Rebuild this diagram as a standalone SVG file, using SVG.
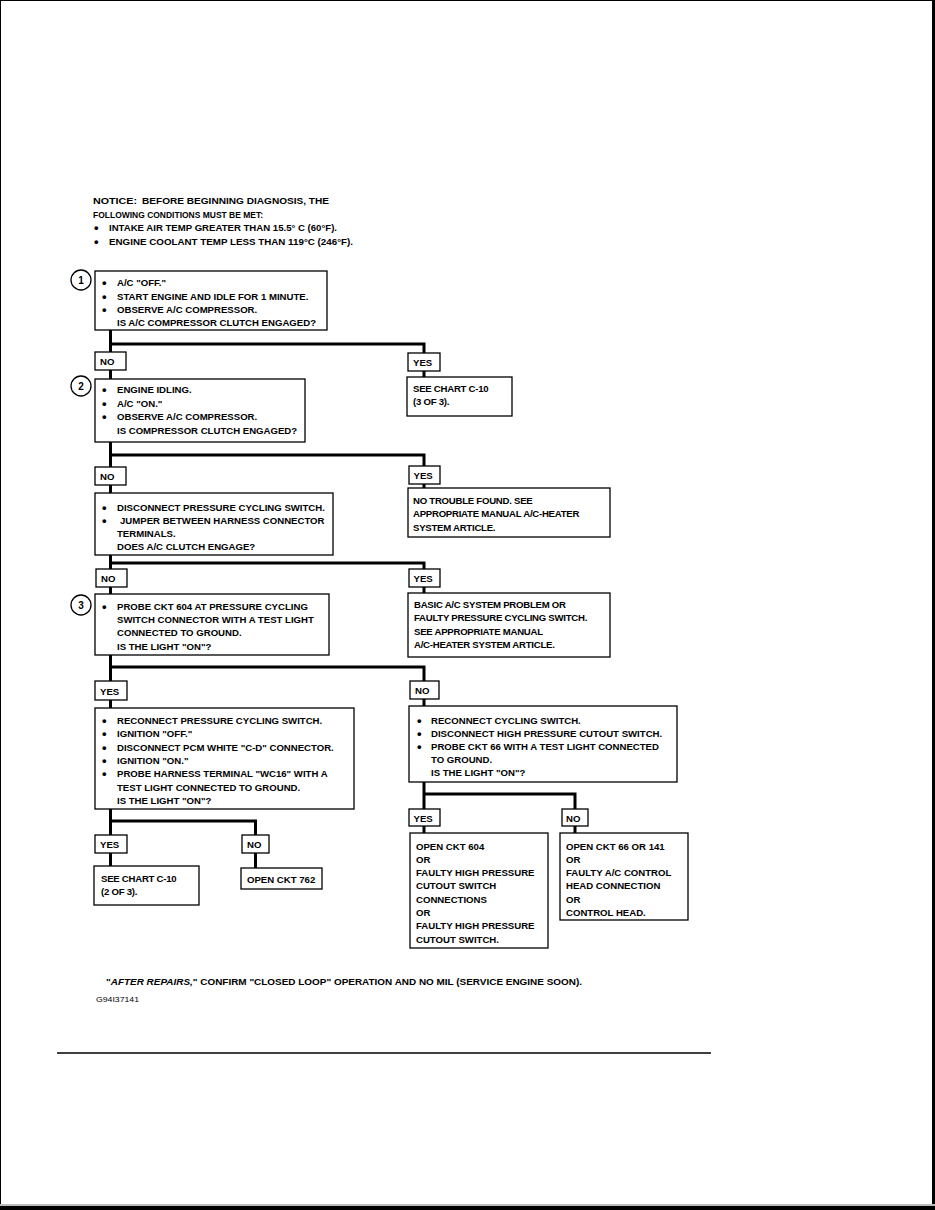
<svg xmlns="http://www.w3.org/2000/svg" width="935" height="1210" viewBox="0 0 935 1210">
<style>
.box{fill:#fff;stroke:#000;stroke-width:1.3}
.wire{fill:none;stroke:#000;stroke-width:3;stroke-linejoin:miter}
.t{font-family:"Liberation Sans",Arial,sans-serif;font-weight:bold;font-size:9.6px;fill:#000}
.b{font-family:"Liberation Sans",Arial,sans-serif;font-weight:bold;font-size:13px;fill:#000}
.r{font-family:"Liberation Sans",Arial,sans-serif;font-weight:bold;font-size:9.6px;letter-spacing:-0.25px;fill:#000}
.n{font-family:"Liberation Sans",Arial,sans-serif;font-weight:bold;font-size:8.5px;fill:#000}
.num{font-family:"Liberation Sans",Arial,sans-serif;font-weight:bold;font-size:10px;fill:#000;text-anchor:middle}
.id{font-family:"Liberation Sans",Arial,sans-serif;font-size:8px;fill:#000}
</style>
<rect width="935" height="1210" fill="#fff"/>
<g id="page-frame">
<rect x="0.5" y="0.5" width="933" height="1206" fill="none" stroke="#000" stroke-width="1"/>
<rect x="932" y="0" width="3" height="1210" fill="#000"/>
<rect x="0" y="1204" width="935" height="2" fill="#bbb"/>
<rect x="0" y="1206" width="935" height="4" fill="#000"/>
<line x1="57" y1="1053" x2="711" y2="1053" stroke="#000" stroke-width="1.6"/>
</g>
<g id="notice">
<text class="t" x="93" y="204" font-size="10.5" textLength="44" lengthAdjust="spacingAndGlyphs">NOTICE:</text>
<text class="n" x="142" y="204" textLength="187" lengthAdjust="spacingAndGlyphs">BEFORE BEGINNING DIAGNOSIS, THE</text>
<text class="n" x="93" y="217.5" textLength="170" lengthAdjust="spacingAndGlyphs">FOLLOWING CONDITIONS MUST BE MET:</text>
<text class="b" x="94" y="232" font-size="11">•</text>
<text class="n" x="109" y="231" textLength="228" lengthAdjust="spacingAndGlyphs">INTAKE AIR TEMP GREATER THAN 15.5° C (60°F).</text>
<text class="b" x="94" y="245.5" font-size="11">•</text>
<text class="n" x="109" y="244.5" textLength="244" lengthAdjust="spacingAndGlyphs">ENGINE COOLANT TEMP LESS THAN 119°C (246°F).</text>
</g>
<g id="connectors">
<path class="wire" d="M110.5,330 V379 M110.5,344 H424 V377"/>
<path class="wire" d="M110.5,442 V493 M110.5,455 H424 V488"/>
<path class="wire" d="M110.5,555 V594 M110.5,563 H424 V593"/>
<path class="wire" d="M110.5,655 V708 M110.5,667 H424 V706"/>
<path class="wire" d="M110.5,809 V866 M110.5,821 H255.5 V868"/>
<path class="wire" d="M424,782 V833 M424,794 H575 V833"/>
</g>
<g id="step1">
<circle cx="81" cy="280" r="10" fill="#fff" stroke="#000" stroke-width="1.3"/>
<text class="num" x="81" y="283.5">1</text>
<rect class="box" x="95" y="271" width="232" height="59"/>
<text class="b" x="102" y="287">•</text><text class="t" x="117" y="286">A/C "OFF."</text>
<text class="b" x="102" y="300.5">•</text><text class="t" x="117" y="299.5">START ENGINE AND IDLE FOR 1 MINUTE.</text>
<text class="b" x="102" y="313.5">•</text><text class="t" x="117" y="312.5">OBSERVE A/C COMPRESSOR.</text>
<text class="t" x="117" y="325.5">IS A/C COMPRESSOR CLUTCH ENGAGED?</text>
</g>
<g id="label-no-1"><rect class="box" x="95" y="352" width="31" height="18"/><text class="t" x="100" y="365">NO</text></g>
<g id="label-yes-1"><rect class="box" x="408" y="353" width="32" height="18"/><text class="t" x="413" y="366">YES</text></g>
<g id="result-chart-3of3">
<rect class="box" x="407" y="377" width="105" height="39"/>
<text class="r" x="413" y="392">SEE CHART C-10</text>
<text class="r" x="413" y="405">(3 OF 3).</text>
</g>
<g id="step2">
<circle cx="81" cy="386" r="10" fill="#fff" stroke="#000" stroke-width="1.3"/>
<text class="num" x="81" y="389.5">2</text>
<rect class="box" x="95" y="379" width="210" height="63"/>
<text class="b" x="102" y="394">•</text><text class="t" x="117" y="393">ENGINE IDLING.</text>
<text class="b" x="102" y="407.5">•</text><text class="t" x="117" y="406.5">A/C "ON."</text>
<text class="b" x="102" y="421">•</text><text class="t" x="117" y="420">OBSERVE A/C COMPRESSOR.</text>
<text class="t" x="117" y="433.5">IS COMPRESSOR CLUTCH ENGAGED?</text>
</g>
<g id="label-no-2"><rect class="box" x="95" y="467" width="31" height="18"/><text class="t" x="100" y="480">NO</text></g>
<g id="label-yes-2"><rect class="box" x="409" y="466" width="31" height="18"/><text class="t" x="413.5" y="479">YES</text></g>
<g id="result-no-trouble">
<rect class="box" x="408" y="488" width="202" height="49"/>
<text class="r" x="413" y="503.5">NO TROUBLE FOUND. SEE</text>
<text class="r" x="413" y="517">APPROPRIATE MANUAL A/C-HEATER</text>
<text class="r" x="413" y="530.5">SYSTEM ARTICLE.</text>
</g>
<g id="step-jumper">
<rect class="box" x="95" y="493" width="238" height="62"/>
<text class="b" x="102" y="511.5">•</text><text class="t" x="117" y="510.5">DISCONNECT PRESSURE CYCLING SWITCH.</text>
<text class="b" x="102" y="524.5">•</text><text class="t" x="120" y="523.5">JUMPER BETWEEN HARNESS CONNECTOR</text>
<text class="t" x="117" y="537">TERMINALS.</text>
<text class="t" x="117" y="550">DOES A/C CLUTCH ENGAGE?</text>
</g>
<g id="label-no-3"><rect class="box" x="96" y="569" width="31" height="18"/><text class="t" x="101" y="582">NO</text></g>
<g id="label-yes-3"><rect class="box" x="409" y="569" width="31" height="18"/><text class="t" x="413.5" y="582">YES</text></g>
<g id="result-basic-ac">
<rect class="box" x="408" y="593" width="202" height="64"/>
<text class="r" x="414" y="607.5">BASIC A/C SYSTEM PROBLEM OR</text>
<text class="r" x="414" y="621">FAULTY PRESSURE CYCLING SWITCH.</text>
<text class="r" x="414" y="634.5">SEE APPROPRIATE MANUAL</text>
<text class="r" x="414" y="648">A/C-HEATER SYSTEM ARTICLE.</text>
</g>
<g id="step3">
<circle cx="81" cy="605" r="10" fill="#fff" stroke="#000" stroke-width="1.3"/>
<text class="num" x="81" y="608.5">3</text>
<rect class="box" x="95" y="594" width="234" height="61"/>
<text class="b" x="102" y="610.5">•</text><text class="t" x="117" y="609.5">PROBE CKT 604 AT PRESSURE CYCLING</text>
<text class="t" x="117" y="622.5">SWITCH CONNECTOR WITH A TEST LIGHT</text>
<text class="t" x="117" y="636">CONNECTED TO GROUND.</text>
<text class="t" x="117" y="649.5">IS THE LIGHT "ON"?</text>
</g>
<g id="label-yes-4"><rect class="box" x="95" y="681" width="32" height="19"/><text class="t" x="100" y="694.5">YES</text></g>
<g id="label-no-4"><rect class="box" x="410" y="681" width="29" height="18"/><text class="t" x="415" y="694">NO</text></g>
<g id="step-pcm">
<rect class="box" x="95" y="708" width="259" height="101"/>
<text class="b" x="102" y="724.5">•</text><text class="t" x="117" y="723.5">RECONNECT PRESSURE CYCLING SWITCH.</text>
<text class="b" x="102" y="737.5">•</text><text class="t" x="117" y="736.5">IGNITION "OFF."</text>
<text class="b" x="102" y="751.5">•</text><text class="t" x="117" y="750.5">DISCONNECT PCM WHITE "C-D" CONNECTOR.</text>
<text class="b" x="102" y="764.5">•</text><text class="t" x="117" y="763.5">IGNITION "ON."</text>
<text class="b" x="102" y="777.5">•</text><text class="t" x="117" y="776.5">PROBE HARNESS TERMINAL "WC16" WITH A</text>
<text class="t" x="117" y="790.5">TEST LIGHT CONNECTED TO GROUND.</text>
<text class="t" x="117" y="803.5">IS THE LIGHT "ON"?</text>
</g>
<g id="step-cutout">
<rect class="box" x="409" y="706" width="268" height="76"/>
<text class="b" x="417" y="724.5">•</text><text class="t" x="431" y="723.5">RECONNECT CYCLING SWITCH.</text>
<text class="b" x="417" y="737.5">•</text><text class="t" x="431" y="736.5">DISCONNECT HIGH PRESSURE CUTOUT SWITCH.</text>
<text class="b" x="417" y="750.5">•</text><text class="t" x="431" y="749.5">PROBE CKT 66 WITH A TEST LIGHT CONNECTED</text>
<text class="t" x="431" y="762.5">TO GROUND.</text>
<text class="t" x="431" y="776">IS THE LIGHT "ON"?</text>
</g>
<g id="label-yes-5"><rect class="box" x="95" y="835" width="32" height="18"/><text class="t" x="100" y="848">YES</text></g>
<g id="label-no-5"><rect class="box" x="242" y="835" width="27" height="18"/><text class="t" x="247" y="848">NO</text></g>
<g id="result-chart-2of3">
<rect class="box" x="94" y="866" width="105" height="39"/>
<text class="r" x="101" y="882">SEE CHART C-10</text>
<text class="r" x="101" y="895">(2 OF 3).</text>
</g>
<g id="result-open-762">
<rect class="box" x="241" y="868" width="81" height="21"/>
<text class="t" x="247" y="883">OPEN CKT 762</text>
</g>
<g id="label-yes-6"><rect class="box" x="409" y="809" width="31" height="17"/><text class="t" x="413.5" y="821.5">YES</text></g>
<g id="label-no-6"><rect class="box" x="562" y="809" width="26" height="17"/><text class="t" x="566" y="821.5">NO</text></g>
<g id="result-open-604">
<rect class="box" x="410" y="833" width="138" height="115"/>
<text class="t" x="416" y="849.5">OPEN CKT 604</text>
<text class="t" x="416" y="862.5">OR</text>
<text class="t" x="416" y="876">FAULTY HIGH PRESSURE</text>
<text class="t" x="416" y="889">CUTOUT SWITCH</text>
<text class="t" x="416" y="902.5">CONNECTIONS</text>
<text class="t" x="416" y="916">OR</text>
<text class="t" x="416" y="929">FAULTY HIGH PRESSURE</text>
<text class="t" x="416" y="942.5">CUTOUT SWITCH.</text>
</g>
<g id="result-open-66">
<rect class="box" x="560" y="833" width="128" height="87"/>
<text class="t" x="566" y="849.5">OPEN CKT 66 OR 141</text>
<text class="t" x="566" y="862.5">OR</text>
<text class="t" x="566" y="876">FAULTY A/C CONTROL</text>
<text class="t" x="566" y="889">HEAD CONNECTION</text>
<text class="t" x="566" y="902.5">OR</text>
<text class="t" x="566" y="916">CONTROL HEAD.</text>
</g>
<g id="footer">
<text class="n" x="106" y="985" textLength="476" lengthAdjust="spacingAndGlyphs">"<tspan font-style="italic">AFTER REPAIRS,</tspan>" CONFIRM "CLOSED LOOP" OPERATION AND NO MIL (SERVICE ENGINE SOON).</text>
<text class="id" x="96" y="1002" textLength="43" lengthAdjust="spacingAndGlyphs">G94I37141</text>
</g>
</svg>
